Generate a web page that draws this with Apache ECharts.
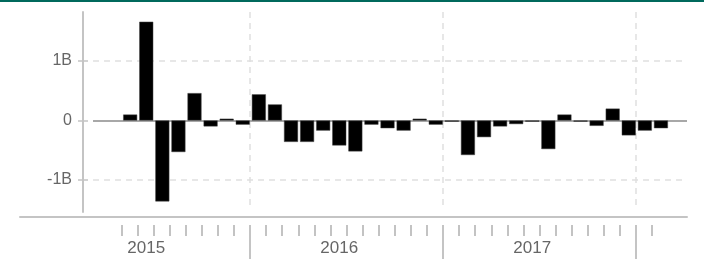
<!DOCTYPE html>
<html>
<head>
<meta charset="utf-8">
<script src="https://cdn.jsdelivr.net/npm/echarts@6/dist/echarts.min.js"></script>
<style>
  html, body { margin: 0; padding: 0; background: #fff; }
  #wrap { position: relative; width: 707px; height: 261px; }
  #topbar { position: absolute; left: 0; top: 0; width: 704px; height: 2px; background: #00695c; z-index: 2; }
  #main { width: 707px; height: 261px; }
</style>
</head>
<body>
<div id="wrap">
  <div id="topbar"></div>
  <div id="main"></div>
</div>
<script>
// monthly values, in billions
const months = [
    '2015-05', '2015-06', '2015-07', '2015-08', '2015-09', '2015-10', '2015-11', '2015-12',
    '2016-01', '2016-02', '2016-03', '2016-04', '2016-05', '2016-06', '2016-07', '2016-08',
    '2016-09', '2016-10', '2016-11', '2016-12',
    '2017-01', '2017-02', '2017-03', '2017-04', '2017-05', '2017-06', '2017-07', '2017-08',
    '2017-09', '2017-10', '2017-11', '2017-12',
    '2018-01', '2018-02'
];
const values = [
    0.10, 1.66, -1.36, -0.53, 0.46, -0.10, 0.03, -0.07,
    0.44, 0.27, -0.36, -0.36, -0.17, -0.42, -0.52, -0.07,
    -0.13, -0.17, 0.03, -0.07,
    -0.02, -0.58, -0.28, -0.10, -0.06, -0.02, -0.48, 0.10,
    -0.02, -0.09, 0.20, -0.25,
    -0.17, -0.13
];
const years = ['2015', '2016', '2017', '2018'];
const yearLabels = ['2015', '2016', '2017'];
const yTicks = [-1, 0, 1];

// x is counted in months from Jan 2015
const monthIndex = m => (parseInt(m.slice(0, 4)) - 2015) * 12 + parseInt(m.slice(5, 7)) - 1;
const X_MIN = -2.3, X_MAX = 39.17;
const Y_MIN = -1.538, Y_MAX = 1.8235;

const firstM = monthIndex(months[0]);
const lastM = monthIndex(months[months.length - 1]);
const yearStarts = years.map(y => monthIndex(y + '-01')).filter(i => i > firstM);
const minorTicks = [];
for (let i = firstM; i <= lastM; i++) {
    if (yearStarts.indexOf(i) < 0) minorTicks.push(i);
}
const labelPos = yearLabels.map(y => monthIndex(y + '-01') + 5.55);

const barData = months.map((m, i) => [monthIndex(m) + 0.55, values[i]]);

const dash = { color: '#e0e0e0', width: 1.5, type: [6, 5] };
const gridLines = [];
yTicks.filter(v => v !== 0).forEach(v => {
    gridLines.push([{ coord: [2.24, v], lineStyle: dash }, { coord: [39.05, v] }]);
});
yearStarts.forEach(x => {
    gridLines.push([{ coord: [x, Y_MAX], lineStyle: dash }, { coord: [x, -1.437] }]);
});
gridLines.push([{ coord: [2.24, 0], lineStyle: { color: '#a8a8a8', width: 2, type: 'solid' } }, { coord: [X_MAX, 0] }]);

const font = 'Liberation Sans, Arial, sans-serif';
const chart = echarts.init(document.getElementById('main'));
const option = {
    animation: false,
    grid: { left: 20, right: 20, top: 12, bottom: 49, outerBoundsMode: 'none' },
    xAxis: [
        {
            type: 'value', position: 'bottom', min: X_MIN, max: X_MAX, offset: 5,
            axisLine: { show: true, onZero: false, lineStyle: { color: '#c4c4c4', width: 2 } },
            axisTick: { show: false }, axisLabel: { show: false }, splitLine: { show: false }
        },
        {
            type: 'value', position: 'bottom', min: X_MIN, max: X_MAX, offset: 13,
            axisLine: { show: false, onZero: false },
            axisTick: { show: true, customValues: minorTicks, length: 11, lineStyle: { color: '#b0b0b0', width: 1.5 } },
            axisLabel: { show: false }, splitLine: { show: false }
        },
        {
            type: 'value', position: 'bottom', min: X_MIN, max: X_MAX, offset: 13,
            axisLine: { show: false, onZero: false },
            axisTick: { show: true, customValues: yearStarts, length: 34, lineStyle: { color: '#c4c4c4', width: 2 } },
            axisLabel: {
                show: true, customValues: labelPos, margin: 15,
                color: '#666', fontSize: 17, fontFamily: font,
                formatter: v => String(2015 + Math.floor(v / 12))
            },
            splitLine: { show: false }
        }
    ],
    yAxis: [
        {
            type: 'value', position: 'left', min: Y_MIN, max: Y_MAX, offset: -63,
            axisLine: { show: true, onZero: false, lineStyle: { color: '#c4c4c4', width: 2 } },
            axisTick: { show: true, customValues: yTicks, length: 5, lineStyle: { color: '#c4c4c4', width: 1.5 } },
            axisLabel: {
                show: true, customValues: yTicks, margin: 11,
                color: '#666', fontSize: 16, fontFamily: font,
                formatter: v => v === 0 ? '0' : v + 'B'
            },
            splitLine: { show: false }
        },
        {
            type: 'value', position: 'left', min: Y_MIN, max: Y_MAX, offset: -63,
            axisLine: { show: false, onZero: false },
            axisTick: { show: true, inside: true, customValues: yTicks, length: 5, lineStyle: { color: '#c4c4c4', width: 1.5 } },
            axisLabel: { show: false }, splitLine: { show: false }
        }
    ],
    series: [
        {
            type: 'line', data: [], z: 1, silent: true,
            markLine: {
                silent: true, z: 1, symbol: ['none', 'none'],
                label: { show: false },
                emphasis: { disabled: true },
                data: gridLines
            }
        },
        {
            type: 'bar', z: 3, barWidth: 14,
            itemStyle: { color: '#000', borderColor: '#444', borderWidth: 0.5 },
            data: barData
        }
    ]
};
chart.setOption(option);
</script>
</body>
</html>
